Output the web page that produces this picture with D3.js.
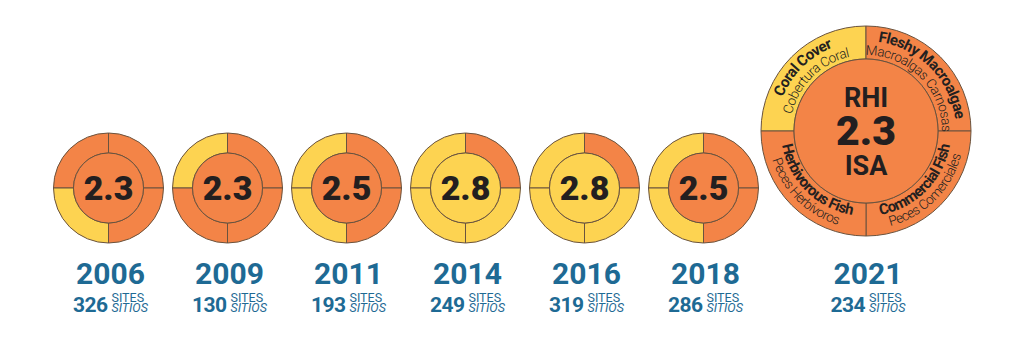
<!DOCTYPE html>
<html>
<head>
<meta charset="utf-8">
<script src="https://cdn.jsdelivr.net/npm/d3@7"></script>
<style>
  html, body { margin: 0; padding: 0; background: #ffffff; }
  svg { display: block; }
</style>
</head>
<body>
<svg id="chart" width="1024" height="359"></svg>
<script>
// ---------------- DATA ----------------
const years = ["2006", "2009", "2011", "2014", "2016", "2018", "2021"];
const rhiValues = [2.3, 2.3, 2.5, 2.8, 2.8, 2.5, 2.3];
const siteCounts = [326, 130, 193, 249, 319, 286, 234];
// indicator grades (Poor = orange, Fair = yellow)
const coralCover = ["Poor", "Fair", "Fair", "Fair", "Fair", "Fair", "Fair"];
const fleshyMacroalgae = ["Poor", "Poor", "Poor", "Poor", "Poor", "Poor", "Poor"];
const commercialFish = ["Poor", "Poor", "Poor", "Fair", "Fair", "Poor", "Poor"];
const herbivorousFish = ["Fair", "Poor", "Fair", "Fair", "Fair", "Fair", "Poor"];
const indicatorLabelsEn = ["Coral Cover", "Fleshy Macroalgae", "Commercial Fish", "Herbivorous Fish"];
const indicatorLabelsEs = ["Cobertura Coral", "Macroalgas Carnosas", "Peces Comerciales", "Peces Herbívoros"];
const sitesLabelEn = "SITES";
const sitesLabelEs = "SITIOS";
const centerLabelEn = "RHI";
const centerLabelEs = "ISA";

// ---------------- SCALES ----------------
const gradeScale = d3.scaleThreshold()
  .domain([1.9, 2.7, 3.5, 4.3])
  .range(["Critical", "Poor", "Fair", "Good", "Very Good"]);
const colorScale = d3.scaleOrdinal()
  .domain(["Critical", "Poor", "Fair", "Good", "Very Good"])
  .range(["#d7382f", "#f38447", "#fdd351", "#8cc63f", "#2e9e48"]);

const svg = d3.select("#chart");
const defs = svg.append("defs");
const smallYears = years.slice(0, 6);
const xScale = d3.scalePoint().domain(smallYears).range([108.5, 703.5]);
const bigOffset = 162.5;
const xPos = (y, i) => i < 6 ? xScale(y) : xScale(smallYears[5]) + bigOffset;

const smallR = { outer: 55, inner: 35, cy: 188 };
const bigR = { outer: 105, inner: 72, cy: 131 };

const lineColor = "#6a533e";
const blue = "#1e6a94";
const textDark = "#231f20";

const pie = d3.pie().value(() => 1).sort(null)
  .startAngle(-Math.PI / 2).endAngle(3 * Math.PI / 2);

years.forEach((yr, i) => {
  const big = i === 6;
  const R = big ? bigR : smallR;
  const cx = xPos(yr, i);
  const g = svg.append("g").attr("transform", `translate(${cx},${R.cy})`);
  const grades = [coralCover[i], fleshyMacroalgae[i], commercialFish[i], herbivorousFish[i]];
  const arc = d3.arc().innerRadius(R.inner).outerRadius(R.outer);

  g.selectAll("path.q").data(pie(grades)).join("path")
    .attr("class", "q")
    .attr("d", arc)
    .attr("fill", d => colorScale(d.data))
    .attr("stroke", lineColor)
    .attr("stroke-width", 1);

  g.append("circle")
    .attr("r", R.inner)
    .attr("fill", colorScale(gradeScale(rhiValues[i])))
    .attr("stroke", lineColor)
    .attr("stroke-width", 1);

  const fmt = d3.format(".1f");
  if (!big) {
    g.append("text")
      .attr("text-anchor", "middle")
      .attr("y", 12)
      .attr("font-family", "Roboto")
      .attr("font-weight", 900)
      .attr("font-size", 34)
      .attr("fill", textDark)
      .text(fmt(rhiValues[i]));
  } else {
    g.append("text").attr("text-anchor", "middle").attr("y", -24)
      .attr("font-family", "Roboto").attr("font-weight", 700).attr("font-size", 27)
      .attr("fill", textDark).text(centerLabelEn);
    g.append("text").attr("text-anchor", "middle").attr("y", 14)
      .attr("font-family", "Roboto").attr("font-weight", 900).attr("font-size", 41)
      .attr("fill", textDark).text(fmt(rhiValues[i]));
    g.append("text").attr("text-anchor", "middle").attr("y", 44)
      .attr("font-family", "Roboto").attr("font-weight", 700).attr("font-size", 27)
      .attr("fill", textDark).text(centerLabelEs);

    // curved labels
    const pt = (r, a) => [r * Math.sin(a), -r * Math.cos(a)];
    pie(grades).forEach((d, k) => {
      const top = k < 2;
      const rEn = top ? 90 : 85;
      const rEs = top ? 76 : 98;
      [[rEn, indicatorLabelsEn[k], true], [rEs, indicatorLabelsEs[k], false]].forEach(([r, label, bold], j) => {
        const id = `lbl${k}_${j}`;
        let dStr;
        if (top) {
          const p0 = pt(r, d.startAngle), p1 = pt(r, d.endAngle);
          dStr = `M${p0[0]},${p0[1]} A${r},${r} 0 0 1 ${p1[0]},${p1[1]}`;
        } else {
          const p0 = pt(r, d.endAngle), p1 = pt(r, d.startAngle);
          dStr = `M${p0[0]},${p0[1]} A${r},${r} 0 0 0 ${p1[0]},${p1[1]}`;
        }
        defs.append("path").attr("id", id).attr("d", dStr);
        g.append("text")
          .attr("font-family", "Roboto")
          .attr("font-weight", bold ? 700 : 300)
          .attr("font-size", bold ? 15 : 13.5)
          .attr("letter-spacing", bold ? -0.6 : -0.5)
          .attr("fill", textDark)
          .append("textPath")
          .attr("href", `#${id}`)
          .attr("startOffset", "50%")
          .attr("text-anchor", "middle")
          .text(label);
      });
    });
  }

  // year + sites labels
  const lg = svg.append("g");
  lg.append("text")
    .attr("x", cx + 2)
    .attr("y", 284)
    .attr("text-anchor", "middle")
    .attr("font-family", "Roboto")
    .attr("font-weight", 700)
    .attr("font-size", 30)
    .attr("fill", blue)
    .text(yr);
  const sg = lg.append("g");
  const num = sg.append("text")
    .attr("x", 0).attr("y", 312)
    .attr("font-family", "Roboto").attr("font-weight", 700)
    .attr("font-size", 21).attr("letter-spacing", -0.6)
    .attr("fill", blue).text(siteCounts[i]);
  const nw = num.node().getComputedTextLength();
  const t1 = sg.append("text").attr("x", nw + 4).attr("y", 302)
    .attr("font-family", "Roboto").attr("font-weight", 400)
    .attr("font-size", 12.5).attr("fill", blue).text(sitesLabelEn);
  const t2 = sg.append("text").attr("x", nw + 4).attr("y", 312)
    .attr("font-family", "Roboto").attr("font-weight", 400).attr("font-style", "italic")
    .attr("font-size", 12.5).attr("fill", blue).text(sitesLabelEs);
  const tw = nw + 4 + Math.max(t1.node().getComputedTextLength(), t2.node().getComputedTextLength());
  sg.attr("transform", `translate(${cx + 2 - tw / 2},0)`);
});
</script>
</body>
</html>
